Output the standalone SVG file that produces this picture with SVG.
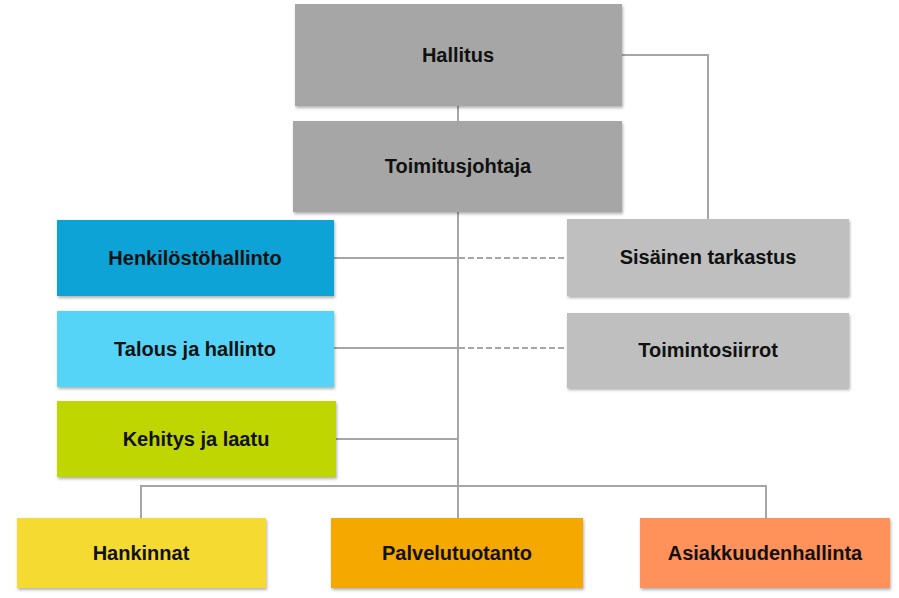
<svg xmlns="http://www.w3.org/2000/svg" width="899" height="598" viewBox="0 0 899 598">
<defs>
<filter id="sh" x="-5%" y="-10%" width="110%" height="125%">
<feDropShadow dx="1" dy="2" stdDeviation="1.5" flood-color="#000" flood-opacity="0.3"/>
</filter>
</defs>
<style>
.box{filter:url(#sh);}
.lbl{font-family:"Liberation Sans",Arial,sans-serif;font-weight:bold;font-size:20px;fill:#111;text-anchor:middle;}
.ln{stroke:#a6a6a6;stroke-width:2;fill:none;}
.dash{stroke:#a6a6a6;stroke-width:2;fill:none;stroke-dasharray:6 3;}
</style>
<rect width="899" height="598" fill="#fff"/>
<g id="connectors">
<line class="ln" x1="458" y1="106" x2="458" y2="121"/>
<polyline class="ln" points="622,55 708,55 708,219"/>
<line class="ln" x1="458" y1="212" x2="458" y2="518"/>
<line class="ln" x1="334" y1="258" x2="458" y2="258"/>
<line class="dash" x1="459" y1="258" x2="567" y2="258"/>
<line class="ln" x1="334" y1="348" x2="458" y2="348"/>
<line class="dash" x1="459" y1="348" x2="567" y2="348"/>
<line class="ln" x1="336" y1="439" x2="458" y2="439"/>
<polyline class="ln" points="141,518 141,486 766,486 766,518"/>
</g>
<g id="hallitus"><rect class="box" x="295" y="4" width="327" height="102" fill="#a6a6a6"/><text class="lbl" x="458" y="62">Hallitus</text></g>
<g id="toimitusjohtaja"><rect class="box" x="293" y="121" width="329" height="91" fill="#a6a6a6"/><text class="lbl" x="458" y="173">Toimitusjohtaja</text></g>
<g id="henkilostohallinto"><rect class="box" x="57" y="220" width="277" height="76" fill="#0ba3d6"/><text class="lbl" x="195" y="265">Henkilöstöhallinto</text></g>
<g id="talous"><rect class="box" x="57" y="311" width="277" height="76" fill="#55d4f8"/><text class="lbl" x="195" y="356">Talous ja hallinto</text></g>
<g id="kehitys"><rect class="box" x="57" y="401" width="279" height="76" fill="#bfd600"/><text class="lbl" x="196" y="446">Kehitys ja laatu</text></g>
<g id="sisainen"><rect class="box" x="567" y="219" width="282" height="77" fill="#bfbfbf"/><text class="lbl" x="708" y="264">Sisäinen tarkastus</text></g>
<g id="toimintosiirrot"><rect class="box" x="567" y="313" width="282" height="75" fill="#bfbfbf"/><text class="lbl" x="708" y="357">Toimintosiirrot</text></g>
<g id="hankinnat"><rect class="box" x="17" y="518" width="249" height="70" fill="#f5da33"/><text class="lbl" x="141" y="560">Hankinnat</text></g>
<g id="palvelutuotanto"><rect class="box" x="331" y="518" width="252" height="70" fill="#f5a800"/><text class="lbl" x="457" y="560">Palvelutuotanto</text></g>
<g id="asiakkuudenhallinta"><rect class="box" x="640" y="518" width="250" height="70" fill="#ff915a"/><text class="lbl" x="765" y="560">Asiakkuudenhallinta</text></g>
</svg>
